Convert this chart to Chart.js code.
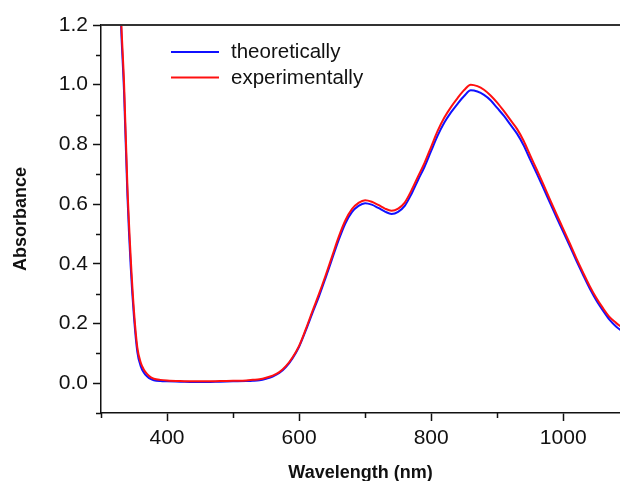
<!DOCTYPE html>
<html>
<head>
<meta charset="utf-8">
<script src="https://cdn.jsdelivr.net/npm/chart.js@4.4.1/dist/chart.umd.min.js"></script>
<style>
  html, body { margin: 0; padding: 0; background: #fff; }
</style>
</head>
<body>
<canvas id="chart" width="620" height="481"></canvas>
<script>
// wavelength (nm)
const wavelengths = [320, 325, 330, 335, 340, 345, 350, 355, 360, 365, 370, 375, 380, 390, 400,
  420, 440, 460, 480, 500, 520, 530, 540, 550, 560, 570, 580, 590, 600, 610, 620, 630, 640, 650,
  660, 670, 680, 690, 700, 710, 720, 730, 740, 750, 760, 770, 780, 790, 800, 810, 820, 830,
  840, 850, 860, 870, 880, 890, 900, 910, 920, 930, 940, 950, 960, 970, 980, 990, 1000, 1010,
  1020, 1030, 1040, 1050, 1060, 1070, 1080, 1090]

// absorbance
const theoretical = [2.2, 1.6, 1.22, 0.97, 0.63, 0.39, 0.22, 0.105, 0.058, 0.035, 0.022, 0.014, 0.01, 0.007, 0.006,
  0.005, 0.004, 0.004, 0.005, 0.006, 0.007, 0.008, 0.01, 0.015, 0.022, 0.034, 0.054, 0.083, 0.122, 0.176, 0.234, 0.29, 0.352, 0.416,
  0.48, 0.535, 0.573, 0.594, 0.603, 0.598, 0.587, 0.575, 0.567, 0.574, 0.594, 0.633, 0.68, 0.725, 0.778, 0.83, 0.873, 0.907,
  0.936, 0.962, 0.981, 0.977, 0.966, 0.948, 0.922, 0.896, 0.866, 0.836, 0.797, 0.749, 0.702, 0.654, 0.604, 0.555, 0.507, 0.459,
  0.41, 0.363, 0.318, 0.278, 0.244, 0.213, 0.19, 0.172]

const experimental = [2.2, 1.65, 1.25, 1.0, 0.66, 0.42, 0.24, 0.12, 0.07, 0.045, 0.03, 0.02, 0.015, 0.011, 0.009,
  0.007, 0.006, 0.006, 0.007, 0.008, 0.009, 0.011, 0.013, 0.018, 0.025, 0.037, 0.057, 0.086, 0.125, 0.18, 0.24, 0.298, 0.36, 0.425,
  0.49, 0.545, 0.583, 0.604, 0.613, 0.608, 0.597, 0.585, 0.578, 0.585, 0.605, 0.645, 0.692, 0.738, 0.792, 0.846, 0.89, 0.925,
  0.955, 0.982, 1.0, 0.995, 0.983, 0.964, 0.94, 0.912, 0.882, 0.852, 0.812, 0.763, 0.715, 0.666, 0.615, 0.565, 0.517, 0.468,
  0.418, 0.371, 0.326, 0.286, 0.252, 0.222, 0.202, 0.185]

const xMajorTicks = [400, 600, 800, 1000]
const xMinorTicks = [300, 500, 700, 900]
const yMajorTicks = [0, 0.2, 0.4, 0.6, 0.8, 1.0, 1.2]
const yMinorTicks = [-0.1, 0.1, 0.3, 0.5, 0.7, 0.9, 1.1]

const FONT = '"Liberation Sans", Arial, sans-serif'
const INK = '#111'

function points(values) {
  return wavelengths.map((w, i) => ({ x: w, y: values[i] }))
}

// minor ticks, top frame line and the in-plot legend
const framePlugin = {
  id: 'frame',
  afterDraw(chart) {
    const { ctx, chartArea: a, scales: { x, y } } = chart
    ctx.save()
    ctx.strokeStyle = INK
    ctx.lineWidth = 1.5
    ctx.beginPath()
    xMinorTicks.forEach(v => {
      const px = Math.round(x.getPixelForValue(v)) + 0.5
      ctx.moveTo(px, a.bottom)
      ctx.lineTo(px, a.bottom + 5)
    })
    yMinorTicks.forEach(v => {
      const py = Math.round(y.getPixelForValue(v)) + 0.5
      ctx.moveTo(a.left, py)
      ctx.lineTo(a.left - 5, py)
    })
    ctx.stroke()

    ctx.strokeStyle = '#333'
    ctx.lineWidth = 2
    ctx.beginPath()
    ctx.moveTo(a.left, a.top)
    ctx.lineTo(a.right, a.top)
    ctx.stroke()

    ctx.font = '20.5px ' + FONT
    ctx.fillStyle = INK
    ctx.textBaseline = 'alphabetic'
    chart.data.datasets.forEach((ds, i) => {
      const ly = a.top + 27 + i * 25.6
      ctx.strokeStyle = ds.borderColor
      ctx.lineWidth = 2
      ctx.beginPath()
      ctx.moveTo(a.left + 70, ly)
      ctx.lineTo(a.left + 118, ly)
      ctx.stroke()
      ctx.fillText(ds.label, a.left + 130, ly + 6)
    })
    ctx.restore()
  }
}

new Chart(document.getElementById('chart'), {
  type: 'line',
  data: {
    datasets: [{
      label: 'theoretically',
      data: points(theoretical),
      borderColor: '#1010ff',
      borderWidth: 2,
      pointRadius: 0,
      cubicInterpolationMode: 'monotone',
      order: 1
    }, {
      label: 'experimentally',
      data: points(experimental),
      borderColor: '#ff1010',
      borderWidth: 2,
      pointRadius: 0,
      cubicInterpolationMode: 'monotone',
      order: 0
    }]
  },
  options: {
    responsive: false,
    animation: false,
    devicePixelRatio: 1,
    layout: { padding: { top: 25, right: 0, bottom: 0, left: 0 } },
    plugins: {
      legend: { display: false },
      tooltip: { enabled: false }
    },
    scales: {
      x: {
        type: 'linear',
        min: 300,
        max: 1086,
        afterBuildTicks: s => { s.ticks = xMajorTicks.map(v => ({ value: v })) },
        afterFit: s => { s.height = 68 },
        ticks: {
          callback: v => String(v),
          font: { size: 21, family: FONT },
          color: INK,
          padding: 5,
          maxRotation: 0,
          autoSkip: false
        },
        grid: { drawOnChartArea: false, tickLength: 8, tickWidth: 1.5, tickColor: INK },
        border: { color: INK, width: 1.5 },
        title: {
          display: true,
          text: 'Wavelength (nm)',
          font: { size: 18, weight: 'bold', family: FONT },
          color: INK,
          padding: { top: 0, bottom: -3 }
        }
      },
      y: {
        min: -0.1,
        max: 1.2,
        afterBuildTicks: s => { s.ticks = yMajorTicks.map(v => ({ value: v })) },
        afterFit: s => { s.width = 101 },
        ticks: {
          callback: v => v.toFixed(1),
          font: { size: 21, family: FONT },
          color: INK,
          padding: 5
        },
        grid: { drawOnChartArea: false, tickLength: 8, tickWidth: 1.5, tickColor: INK },
        border: { color: INK, width: 1.5 },
        title: {
          display: true,
          text: 'Absorbance',
          font: { size: 18, weight: 'bold', family: FONT },
          color: INK,
          padding: { top: 10, bottom: 0 }
        }
      }
    }
  },
  plugins: [framePlugin]
})
</script>
</body>
</html>
